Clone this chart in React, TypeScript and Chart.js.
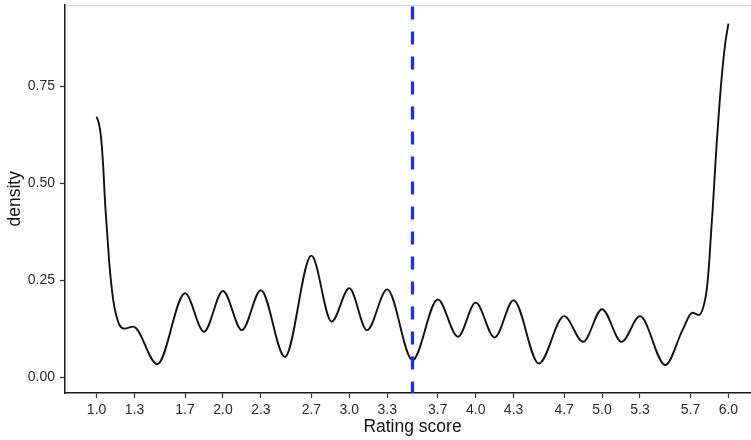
import React, { useEffect, useRef } from "react";
import { Chart, registerables } from "chart.js";

Chart.register(...registerables);

// Kernel density of rating scores, sampled along the score axis
const ratingScore = [
  1.0, 1.017, 1.034, 1.052, 1.066, 1.084, 1.103, 1.132, 1.155, 1.18, 1.22, 1.29,
  1.48, 1.7, 1.85, 2.0, 2.15, 2.3, 2.49, 2.7, 2.86, 3.0, 3.14, 3.3, 3.5, 3.7,
  3.86, 4.0, 4.15, 4.3, 4.5, 4.7, 4.85, 5.0, 5.155, 5.3, 5.5, 5.637, 5.715,
  5.767, 5.806, 5.828, 5.841, 5.851, 5.859, 5.875, 5.891, 5.907, 5.926, 5.947,
  5.975, 6.0,
];
const density = [
  0.671, 0.655, 0.622, 0.545, 0.456, 0.37, 0.284, 0.198, 0.16, 0.135, 0.125,
  0.13, 0.033, 0.216, 0.117, 0.222, 0.121, 0.224, 0.052, 0.313, 0.143, 0.229,
  0.121, 0.226, 0.044, 0.2, 0.104, 0.192, 0.102, 0.198, 0.035, 0.157, 0.091,
  0.175, 0.091, 0.157, 0.031, 0.121, 0.166, 0.16, 0.186, 0.224, 0.267, 0.31,
  0.353, 0.43, 0.516, 0.602, 0.688, 0.774, 0.86, 0.911,
];

// Reference score marked with the dashed vertical line
const meanScore = 3.5;

const xTickValues = [1, 1.3, 1.7, 2, 2.3, 2.7, 3, 3.3, 3.7, 4, 4.3, 4.7, 5, 5.3, 5.7, 6];
const xTickLabels = [
  "1.0", "1.3", "1.7", "2.0", "2.3", "2.7", "3.0", "3.3",
  "3.7", "4.0", "4.3", "4.7", "5.0", "5.3", "5.7", "6.0",
];
const yTickValues = [0, 0.25, 0.5, 0.75];
const yTickLabels = ["0.00", "0.25", "0.50", "0.75"];

const xRange = [0.75, 6.25];
const yRange = [-0.041, 0.96];

const FONT = "'Liberation Sans', Arial, Helvetica, sans-serif";

const topRule = {
  id: "topRule",
  beforeDatasetsDraw(chart: any) {
    const { ctx, chartArea } = chart;
    ctx.save();
    ctx.strokeStyle = "#d9d9d9";
    ctx.lineWidth = 1.5;
    ctx.beginPath();
    ctx.moveTo(chartArea.left + 1, chartArea.top + 1);
    ctx.lineTo(chart.width, chartArea.top + 1);
    ctx.stroke();
    ctx.restore();
  },
};

export default function App() {
  const canvasRef = useRef<HTMLCanvasElement | null>(null);

  useEffect(() => {
    const canvas = canvasRef.current;
    if (!canvas) return;

    const curve = ratingScore.map((x, i) => ({ x, y: density[i] }));
    const meanLine = [
      { x: meanScore, y: yRange[1] },
      { x: meanScore, y: yRange[0] },
    ];

    const chart = new Chart(canvas, {
      type: "line",
      data: {
        datasets: [
          {
            data: meanLine,
            borderColor: "#1030ff",
            borderWidth: 3.2,
            borderDash: [13, 12],
            borderDashOffset: -2,
            pointRadius: 0,
            tension: 0,
            order: 0,
          },
          {
            data: curve,
            borderColor: "#111111",
            borderWidth: 1.9,
            pointRadius: 0,
            cubicInterpolationMode: "monotone",
            order: 1,
          },
        ],
      },
      options: {
        animation: false,
        responsive: false,
        devicePixelRatio: 1,
        layout: { padding: { top: 4.6, left: 0, right: 0, bottom: 0 } },
        plugins: {
          legend: { display: false },
          tooltip: { enabled: false },
        },
        scales: {
          x: {
            type: "linear",
            min: xRange[0],
            max: xRange[1],
            afterBuildTicks: (scale: any) => {
              scale.ticks = xTickValues.map((v) => ({ value: v }));
            },
            afterFit: (scale: any) => {
              scale.height = 47;
              scale.paddingLeft = 0;
              scale.paddingRight = 0;
            },
            grid: {
              display: true,
              drawOnChartArea: false,
              drawTicks: true,
              tickLength: 5,
              tickColor: "#333333",
              tickWidth: 1.2,
            },
            border: { display: true, color: "#1a1a1a", width: 1.5 },
            ticks: {
              autoSkip: false,
              maxRotation: 0,
              padding: 3.5,
              color: "#2b2b2b",
              font: { family: FONT, size: 14 },
              callback: (_v: any, i: number) => xTickLabels[i],
            },
            title: {
              display: true,
              text: "Rating score",
              color: "#111111",
              font: { family: FONT, size: 17.5 },
              padding: { top: 0, bottom: 2.5 },
            },
          },
          y: {
            type: "linear",
            min: yRange[0],
            max: yRange[1],
            afterBuildTicks: (scale: any) => {
              scale.ticks = yTickValues.map((v) => ({ value: v }));
            },
            afterFit: (scale: any) => {
              scale.width = 65;
              scale.paddingTop = 0;
              scale.paddingBottom = 0;
            },
            grid: {
              display: true,
              drawOnChartArea: false,
              drawTicks: true,
              tickLength: 5,
              tickColor: "#333333",
              tickWidth: 1.2,
            },
            border: { display: true, color: "#1a1a1a", width: 1.5 },
            ticks: {
              autoSkip: false,
              padding: 5,
              color: "#2b2b2b",
              font: { family: FONT, size: 14 },
              callback: (_v: any, i: number) => yTickLabels[i],
            },
            title: {
              display: true,
              text: "density",
              color: "#111111",
              font: { family: FONT, size: 17.5 },
              padding: { top: 5, bottom: 0 },
            },
          },
        },
      },
      plugins: [topRule],
    });

    return () => chart.destroy();
  }, []);

  return (
    <div
      style={{
        position: "fixed",
        left: 0,
        top: 0,
        width: 751,
        height: 440,
        overflow: "hidden",
        background: "#ffffff",
      }}
    >
      <canvas ref={canvasRef} width={760} height={440} style={{ display: "block" }} />
    </div>
  );
}
